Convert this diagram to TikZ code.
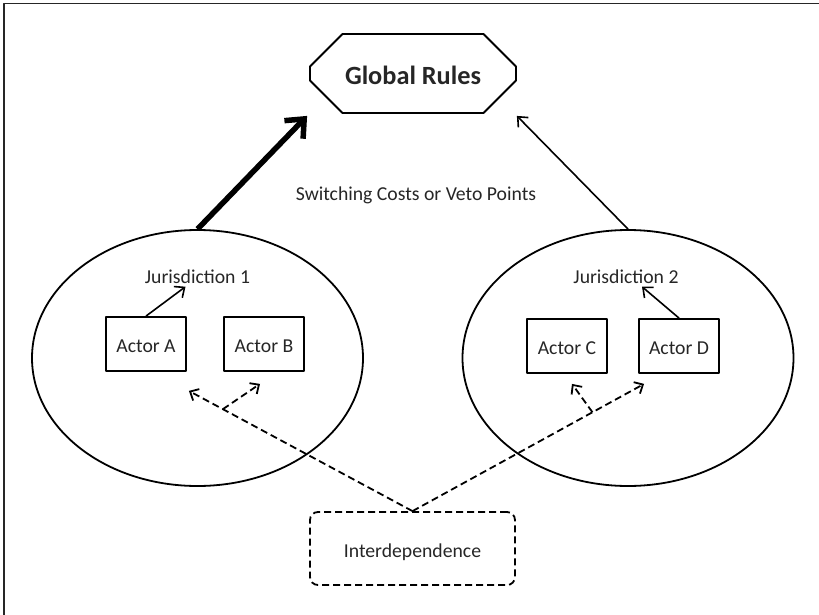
\documentclass[tikz,border=0pt]{standalone}
\usepackage{fontspec}
\setmainfont{Carlito}
\usetikzlibrary{arrows.meta,shapes.geometric,shapes.misc,calc}

\tikzset{
  rules/.style={chamfered rectangle, draw, line width=1.8, chamfered rectangle xsep=23pt,
    chamfered rectangle ysep=21pt, minimum width=206, minimum height=79, inner sep=0pt,
    text height=23pt, text depth=0pt, font=\fontsize{26.3}{30}\selectfont\bfseries},
  juris/.style={ellipse, draw, line width=1.8, minimum width=331, minimum height=256, inner sep=0pt},
  actor/.style={rectangle, draw, line width=1.8, minimum width=80, minimum height=54, inner sep=0pt,
    text height=17pt, text depth=0pt},
  inter/.style={rectangle, draw, line width=1.8, dash pattern=on 7pt off 4pt, rounded corners=8pt,
    minimum width=205, minimum height=73, inner sep=0pt, text height=17pt, text depth=0pt},
  thin/.style={line width=1.6, -{Straight Barb[length=8pt,width=14pt]}},
  depend/.style={line width=1.8, dash pattern=on 7pt off 4pt, -{Straight Barb[length=7pt,width=13pt]}}
}

\begin{document}
\begin{tikzpicture}[x=1pt, y=-1pt, line join=round, text=black!85,
    font=\fontsize{19.7}{24}\selectfont]
  \useasboundingbox (0,0) rectangle (819,615);
  % frame
  \draw[line width=1.5, black!85] (4,615) -- (4,3.5) -- (819,3.5);
  % global rules
  \node[rules] (rules) at (413,73.5) {Global Rules};
  \node[anchor=base] (veto) at (416,200) {Switching Costs or Veto Points};
  % jurisdictions
  \node[juris] (juris1) at (197.5,358) {};
  \node[juris] (juris2) at (628,358) {};
  \node[anchor=base] (lab1) at (197.5,283) {Jurisdiction 1};
  \node[anchor=base] (lab2) at (626,283) {Jurisdiction 2};
  % actors
  \foreach \n/\x/\y/\t in {actA/146/344/A, actB/264/344/B, actC/567/346/C, actD/679/346/D} {
    \node[actor] (\n) at (\x,\y) {Actor \t};
  }
  % interdependence
  \node[inter] (inter) at (412.5,548.5) {Interdependence};
  % to the global rules
  \draw[line width=5.5, -{Straight Barb[length=15pt,width=26pt]}]
    (juris1.north) -- ($(rules.west |- rules.south)+(-2,2)$);
  \draw[thin] (juris2.north) -- ($(rules.east |- rules.south)+(0,2)$);
  \draw[thin] (actA.north) -- ([xshift=-12]lab1.south);
  \draw[thin] (actD.north) -- ([xshift=16]lab2.south);
  % dependence
  \coordinate (tipA) at ([shift={(2,19)}]actA.south east);
  \coordinate (tipB) at ([shift={(-4,12)}]actB.south);
  \coordinate (tipC) at ([shift={(5,10)}]actC.south);
  \coordinate (tipD) at ([shift={(6,10)}]actD.south west);
  \coordinate (jA) at ($(inter.north)!0.848!(tipA)$);
  \coordinate (jC) at ($(inter.north)!0.777!(tipD)$);
  \draw[depend] (inter.north) -- (tipA);
  \draw[depend] (jA) -- (tipB);
  \draw[depend] (inter.north) -- (tipD);
  \draw[depend] (jC) -- (tipC);
\end{tikzpicture}
\end{document}
